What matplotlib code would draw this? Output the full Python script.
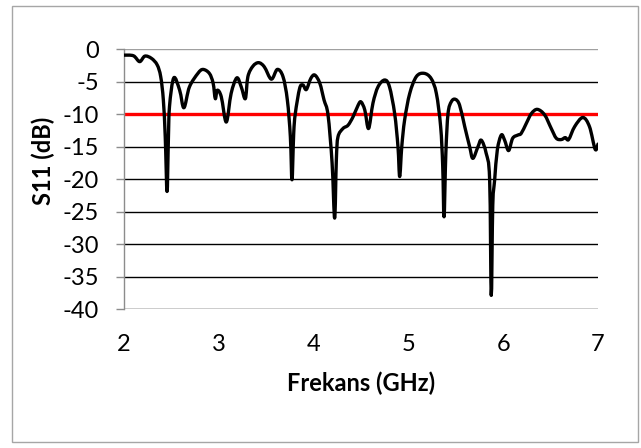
import numpy as np
import matplotlib.pyplot as plt
from matplotlib.patches import Rectangle, PathPatch
from matplotlib.path import Path

# --- Данные: S11 антенны в зависимости от частоты ---
freq_ghz = [
    2.00, 2.10, 2.165, 2.22, 2.29, 2.35, 2.387, 2.415, 2.435, 2.454, 2.468, 2.48,
    2.525, 2.587, 2.632, 2.69, 2.78, 2.833, 2.90, 2.94, 2.963, 2.984, 3.026, 3.079,
    3.13, 3.19, 3.237, 3.28, 3.307, 3.36, 3.42, 3.48, 3.554, 3.617, 3.677, 3.723,
    3.755, 3.772, 3.79, 3.807, 3.853, 3.888, 3.923, 3.97, 4.012, 4.065, 4.11, 4.152,
    4.195, 4.222, 4.24, 4.257, 4.31, 4.363, 4.416, 4.47, 4.50, 4.54, 4.58, 4.626,
    4.68, 4.75, 4.80, 4.855, 4.89, 4.908, 4.93, 4.96, 5.014, 5.084, 5.165, 5.24,
    5.295, 5.34, 5.362, 5.376, 5.395, 5.418, 5.453, 5.495, 5.54, 5.594, 5.646, 5.68,
    5.734, 5.769, 5.82, 5.857, 5.874, 5.89, 5.91, 5.938, 5.98, 6.015, 6.057, 6.10,
    6.156, 6.19, 6.244, 6.297, 6.36, 6.437, 6.507, 6.56, 6.613, 6.655, 6.69, 6.754,
    6.84, 6.91, 6.97, 7.00,
]
s11_db = [
    -0.9, -1.0, -1.9, -1.05, -1.4, -2.4, -4.2, -7.8, -13.5, -21.9, -14.0, -8.8,
    -4.4, -6.3, -9.0, -5.8, -3.7, -3.1, -3.7, -5.2, -7.6, -6.3, -7.3, -11.2,
    -6.8, -4.4, -5.8, -7.6, -4.2, -2.6, -2.06, -2.7, -4.6, -3.1, -4.2, -7.8,
    -13.5, -20.1, -13.0, -9.9, -6.0, -5.5, -6.2, -4.5, -3.96, -5.2, -7.8, -10.1,
    -17.5, -26.0, -17.0, -13.5, -12.2, -11.7, -10.4, -8.6, -8.1, -9.35, -12.2, -8.3,
    -5.76, -4.73, -5.76, -9.9, -15.0, -19.6, -15.0, -10.9, -6.8, -4.2, -3.7, -4.5,
    -6.8, -11.9, -18.0, -25.8, -16.0, -9.9, -8.07, -7.7, -8.6, -11.9, -15.0, -16.8,
    -15.0, -14.0, -16.0, -20.1, -37.9, -24.0, -20.1, -15.5, -13.2, -14.0, -15.6, -13.7,
    -13.2, -12.95, -11.4, -9.9, -9.25, -10.1, -12.2, -13.7, -13.9, -13.6, -13.9, -11.9,
    -10.5, -11.9, -15.4, -14.6,
]
threshold_db = -10

x_ticks = [2, 3, 4, 5, 6, 7]
y_ticks = list(range(-40, 1, 5))


def smooth_path(xs, ys):
    # сглаженная линия как в Excel: сплайн Катмулла-Рома через кубические Безье
    pts = np.column_stack([xs, ys])
    ext = np.vstack([pts[0], pts, pts[-1]])
    verts = [pts[0]]
    codes = [Path.MOVETO]
    for i in range(len(pts) - 1):
        p0, p1, p2, p3 = ext[i], ext[i + 1], ext[i + 2], ext[i + 3]
        verts += [p1 + (p2 - p0) / 6, p2 - (p3 - p1) / 6, p2]
        codes += [Path.CURVE4] * 3
    return Path(verts, codes)


plt.rcParams['font.family'] = ['Lato', 'DejaVu Sans']

fig = plt.figure(figsize=(6.41, 4.48), dpi=100)
ax = fig.add_axes([124 / 641, 1 - 309 / 448, 474 / 641, 259.7 / 448])

# рамка вокруг всей диаграммы
fig.patches.append(Rectangle((12 / 641, 6 / 448), 626 / 641, 436 / 448,
                             transform=fig.transFigure, fill=False,
                             edgecolor='#a6a6a6', linewidth=1.0))

# горизонтальная сетка
for y in y_ticks:
    ax.axhline(y, color='#a0a0a0' if y == 0 else 'black', linewidth=1.0, zorder=1)

ax.axhline(threshold_db, color='#ff0000', linewidth=2.4, zorder=2)
ax.add_patch(PathPatch(smooth_path(freq_ghz, s11_db), facecolor='none',
                       edgecolor='black', linewidth=2.4, joinstyle='round',
                       capstyle='round', zorder=3))

ax.set_xlim(2, 7)
ax.set_ylim(-40, 0)
ax.set_xticks(x_ticks)
ax.set_yticks(y_ticks)
ax.set_yticklabels([str(v) for v in y_ticks])

for side in ['top', 'right', 'bottom']:
    ax.spines[side].set_visible(False)
ax.spines['left'].set_color('#8c8c8c')
ax.spines['left'].set_linewidth(1.0)

ax.tick_params(axis='y', length=6, width=1.0, color='#8c8c8c', pad=12,
               labelsize=17)
ax.tick_params(axis='x', length=0, pad=18, labelsize=17)

ax.set_xlabel('Frekans (GHz)', fontsize=17, fontweight='bold', labelpad=12)
ax.set_ylabel('S11 (dB)', fontsize=17, fontweight='bold')
ax.yaxis.set_label_coords(-0.145, 0.57)

fig.savefig('out.png', dpi=100)
